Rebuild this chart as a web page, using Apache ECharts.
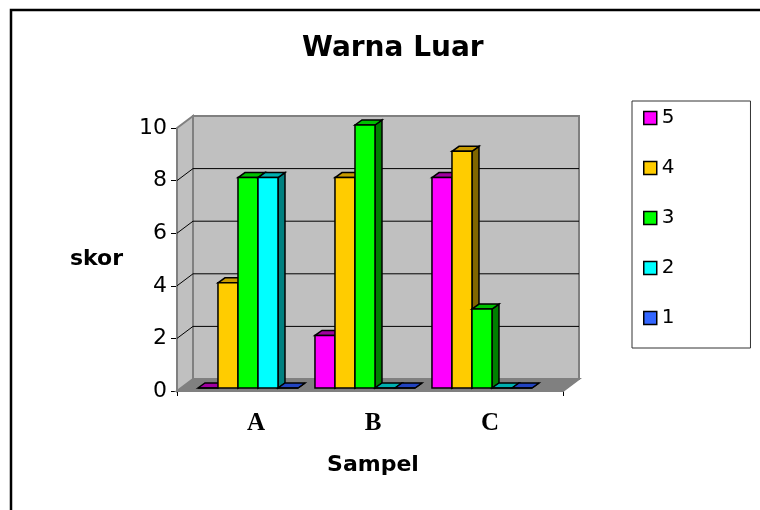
<!DOCTYPE html>
<html>
<head>
<meta charset="utf-8">
<title>Warna Luar</title>
<script src="https://cdn.jsdelivr.net/npm/echarts@6/dist/echarts.min.js"></script>
<style>
  html, body { margin: 0; padding: 0; background: #fff; }
  #chart { width: 760px; height: 510px; }
</style>
</head>
<body>
<div id="chart"></div>
<script>
// data
const categories = ['A', 'B', 'C'];
const seriesNames = ['5', '4', '3', '2', '1'];
const score5 = [0, 2, 8];
const score4 = [4, 8, 9];
const score3 = [8, 10, 3];
const score2 = [8, 0, 0];
const score1 = [0, 0, 0];
const yTicks = [2, 4, 6, 8];

const seriesValues = [score5, score4, score3, score2, score1];

// face colours: front / top / side
const faces = [
  ['#ff00ff', '#a000a0', '#800080'],
  ['#ffcc00', '#c89b00', '#806600'],
  ['#00ff00', '#00c000', '#008000'],
  ['#00ffff', '#00b0b0', '#008080'],
  ['#3366ff', '#2244c0', '#1a3380']
];

const FONT = '"DejaVu Sans", "Liberation Sans", Arial, sans-serif';
const WALL_DX = 16, WALL_DY = -12;   // depth of walls
const BAR_DX = 7, BAR_DY = -5;       // depth of bars

const chart = echarts.init(document.getElementById('chart'));

function barRender(si) {
  return function (params, api) {
    const cat = api.value(0);
    const v = api.value(1);
    const t = api.coord([cat, v]);
    const b = api.coord([cat, 0]);
    const band = api.size([1, 0])[0];
    const w = band * 0.171;
    const x0 = t[0] - band * 0.496 + si * w;
    const x1 = x0 + w;
    const ty = t[1], by = b[1];
    const col = faces[si];
    const line = { stroke: '#000', lineWidth: 1.5, lineJoin: 'miter' };
    return {
      type: 'group',
      children: [
        {
          type: 'polygon',
          shape: { points: [[x1, ty], [x1 + BAR_DX, ty + BAR_DY], [x1 + BAR_DX, by + BAR_DY], [x1, by]] },
          style: Object.assign({ fill: col[2] }, line)
        },
        {
          type: 'polygon',
          shape: { points: [[x0, ty], [x0 + BAR_DX, ty + BAR_DY], [x1 + BAR_DX, ty + BAR_DY], [x1, ty]] },
          style: Object.assign({ fill: col[1] }, line)
        },
        {
          type: 'rect',
          shape: { x: x0, y: ty, width: w, height: by - ty },
          style: Object.assign({ fill: col[0] }, line)
        }
      ]
    };
  };
}

function wallRender(params, api) {
  const lo = api.coord([0, 0]);
  const hi = api.coord([1, 10]);
  const edge = { stroke: '#808080', lineWidth: 2 };
  return {
    type: 'group',
    children: [
      {
        type: 'polygon',
        shape: { points: [[lo[0], lo[1]], [hi[0], lo[1]], [hi[0] + WALL_DX, lo[1] + WALL_DY], [lo[0] + WALL_DX, lo[1] + WALL_DY]] },
        style: Object.assign({ fill: '#808080' }, edge)
      },
      {
        type: 'polygon',
        shape: { points: [[lo[0], hi[1]], [lo[0] + WALL_DX, hi[1] + WALL_DY], [lo[0] + WALL_DX, lo[1] + WALL_DY], [lo[0], lo[1]]] },
        style: Object.assign({ fill: '#c0c0c0' }, edge)
      },
      {
        type: 'rect',
        shape: { x: lo[0] + WALL_DX, y: hi[1] + WALL_DY, width: hi[0] - lo[0], height: lo[1] - hi[1] },
        style: Object.assign({ fill: '#c0c0c0' }, edge)
      }
    ]
  };
}

function gridLineRender(params, api) {
  const p = api.coord([0, api.value(0)]);
  const r = api.coord([1, api.value(0)]);
  return {
    type: 'polyline',
    shape: { points: [[p[0], p[1]], [p[0] + WALL_DX, p[1] + WALL_DY], [r[0] + WALL_DX, r[1] + WALL_DY]] },
    style: { stroke: '#000', lineWidth: 1, fill: null }
  };
}

const barSeries = seriesNames.map(function (name, si) {
  return {
    name: name,
    type: 'custom',
    xAxisIndex: 1,
    yAxisIndex: 1,
    z: 5,
    itemStyle: { color: faces[si][0], borderColor: '#000', borderWidth: 1.5 },
    encode: { x: 0, y: 1 },
    data: categories.map(function (c, i) { return [i, seriesValues[si][i]]; }),
    renderItem: barRender(si)
  };
});

chart.setOption({
  animation: false,
  backgroundColor: '#fff',
  title: {
    text: 'Warna Luar',
    left: 297,
    top: 30,
    textStyle: { fontFamily: FONT, fontSize: 28, fontWeight: 'bold', color: '#000' }
  },
  legend: {
    data: seriesNames,
    orient: 'vertical',
    left: 632,
    top: 101,
    padding: [7, 76, 20, 11],
    itemWidth: 13,
    itemHeight: 13,
    itemGap: 30,
    icon: 'rect',
    selectedMode: false,
    borderColor: '#333',
    borderWidth: 1,
    itemStyle: { borderColor: '#000', borderWidth: 1.5 },
    textStyle: { fontFamily: FONT, fontSize: 20, lineHeight: 20, color: '#000' }
  },
  graphic: [{
    type: 'rect',
    z: -10,
    shape: { x: 11, y: 10, width: 800, height: 600 },
    style: { fill: null, stroke: '#000', lineWidth: 2.5 }
  }],
  grid: [
    { left: 177, top: 128, width: 386, height: 263, outerBoundsMode: 'none' },
    { left: 197.5, top: 125, width: 351, height: 263, outerBoundsMode: 'none' }
  ],
  xAxis: [
    {
      gridIndex: 0,
      type: 'value',
      min: 0,
      max: 1,
      interval: 1,
      axisLine: { show: true, lineStyle: { color: '#000', width: 1 } },
      axisTick: { show: true, length: 5, lineStyle: { color: '#000' } },
      axisLabel: { show: false },
      splitLine: { show: false }
    },
    {
      gridIndex: 1,
      type: 'category',
      data: categories,
      name: 'Sampel',
      nameLocation: 'middle',
      nameGap: 66,
      nameTextStyle: { fontFamily: FONT, fontSize: 22, fontWeight: 'bold', color: '#000' },
      axisLine: { show: false },
      axisTick: { show: false },
      axisLabel: {
        margin: 23,
        fontFamily: '"Liberation Serif", "Times New Roman", serif',
        fontSize: 25,
        fontWeight: 'bold',
        color: '#000'
      },
      splitLine: { show: false }
    }
  ],
  yAxis: [
    {
      gridIndex: 0,
      type: 'value',
      min: 0,
      max: 10,
      interval: 2,
      name: 'skor',
      nameLocation: 'middle',
      nameRotate: 0,
      nameGap: 54,
      nameTextStyle: { fontFamily: FONT, fontSize: 22, fontWeight: 'bold', color: '#000' },
      axisLine: { show: true, lineStyle: { color: '#000', width: 1 } },
      axisTick: { show: true, length: 6, lineStyle: { color: '#000' } },
      axisLabel: { margin: 10, fontFamily: FONT, fontSize: 22, color: '#000' },
      splitLine: { show: false }
    },
    {
      gridIndex: 1,
      type: 'value',
      min: 0,
      max: 10,
      interval: 2,
      show: false
    }
  ],
  series: [
    {
      name: 'walls',
      type: 'custom',
      silent: true,
      z: 1,
      xAxisIndex: 0,
      yAxisIndex: 0,
      data: [[0]],
      renderItem: wallRender
    },
    {
      name: 'gridlines',
      type: 'custom',
      silent: true,
      z: 2,
      xAxisIndex: 0,
      yAxisIndex: 0,
      data: yTicks.map(function (v) { return [v]; }),
      encode: { y: 0 },
      renderItem: gridLineRender
    }
  ].concat(barSeries)
});
</script>
</body>
</html>
